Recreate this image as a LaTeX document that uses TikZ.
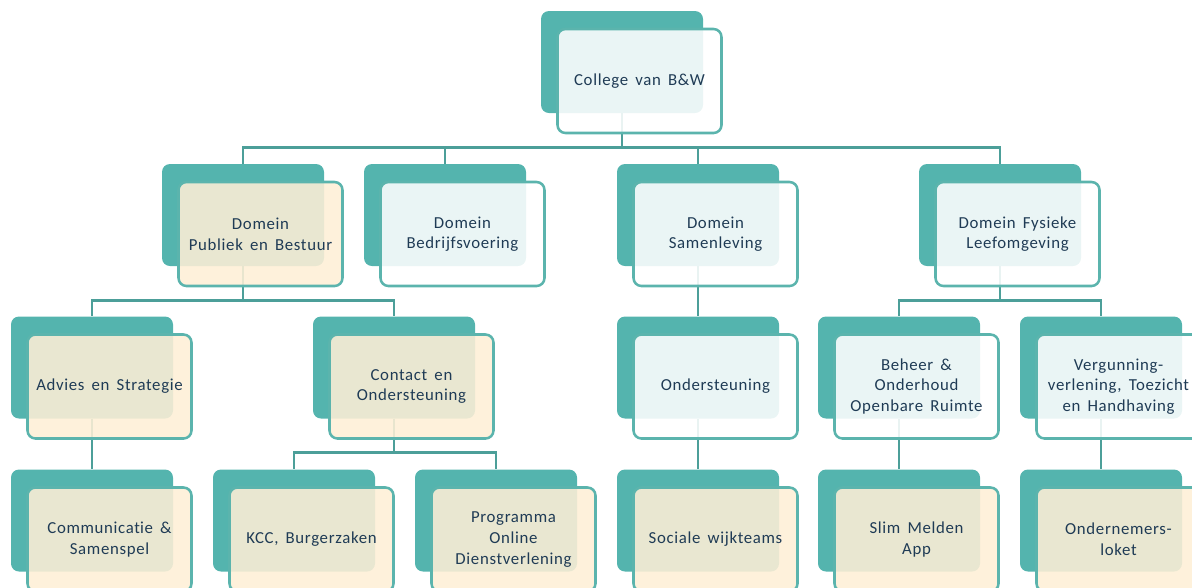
\documentclass[tikz,border=0pt]{standalone}
\usepackage{fontspec}
\setmainfont{Carlito}[LetterSpace=4,WordSpace=1.6,Ligatures={NoCommon}]
\usetikzlibrary{backgrounds}

\definecolor{teal}{HTML}{54B4AE}
\definecolor{edge}{HTML}{5BB4AD}
\definecolor{wire}{HTML}{4C9F99}
\definecolor{cream}{HTML}{FEEFD6}
\definecolor{ink}{HTML}{1F3B55}

\tikzset{
  backbox/.style={rectangle, rounded corners=6pt, fill=teal, minimum width=121.5pt, minimum height=76.5pt, inner sep=0pt},
  frontbox/.style={rectangle, rounded corners=6pt, draw=edge, line width=1.9pt, fill opacity=0.88, text opacity=1,
    minimum width=123pt, minimum height=78pt, align=center, text=ink, font=\fontsize{12.6}{15.5}\selectfont},
  pale/.style={frontbox, fill=white},
  warm/.style={frontbox, fill=cream},
  link/.style={draw=wire, line width=2.2pt}
}

\begin{document}
\begin{tikzpicture}[x=0.75pt, y=-0.75pt]
    \useasboundingbox (0,0) rectangle (1192,587);

    % back plates
    \node[backbox] (college-b) at (622,62) {};
    \node[backbox] (publiek-b) at (243,215) {};
    \node[backbox] (bedrijf-b) at (445,215) {};
    \node[backbox] (samen-b) at (698,215) {};
    \node[backbox] (fysiek-b) at (1000,215) {};
    \node[backbox] (advies-b) at (92,367.5) {};
    \node[backbox] (contact-b) at (394,367.5) {};
    \node[backbox] (onderst-b) at (698,367.5) {};
    \node[backbox] (beheer-b) at (899,367.5) {};
    \node[backbox] (vergun-b) at (1101,367.5) {};
    \node[backbox] (commun-b) at (92,520.5) {};
    \node[backbox] (kcc-b) at (294,520.5) {};
    \node[backbox] (online-b) at (496,520.5) {};
    \node[backbox] (wijk-b) at (698,520.5) {};
    \node[backbox] (melden-b) at (899,520.5) {};
    \node[backbox] (loket-b) at (1101,520.5) {};

    % front cards, offset down-right from their plates
    \node[pale] (college) at ([shift={(17.5,19)}]college-b) {College van B\&W};
    \node[warm] (publiek) at ([shift={(17.5,19)}]publiek-b) {Domein\\Publiek en Bestuur};
    \node[pale] (bedrijf) at ([shift={(17.5,19)}]bedrijf-b) {Domein\\Bedrijfsvoering};
    \node[pale] (samen) at ([shift={(17.5,19)}]samen-b) {Domein\\Samenleving};
    \node[pale] (fysiek) at ([shift={(17.5,19)}]fysiek-b) {Domein Fysieke\\Leefomgeving};
    \node[warm] (advies) at ([shift={(17.5,19)}]advies-b) {Advies en Strategie};
    \node[warm] (contact) at ([shift={(17.5,19)}]contact-b) {Contact en\\Ondersteuning};
    \node[pale] (onderst) at ([shift={(17.5,19)}]onderst-b) {Ondersteuning};
    \node[pale] (beheer) at ([shift={(17.5,19)}]beheer-b) {Beheer \&\\Onderhoud\\Openbare Ruimte};
    \node[pale] (vergun) at ([shift={(17.5,19)}]vergun-b) {Vergunning-\\verlening, Toezicht\\en Handhaving};
    \node[warm] (commun) at ([shift={(17.5,19)}]commun-b) {Communicat\kern0pt ie \&\\Samenspel};
    \node[warm] (kcc) at ([shift={(17.5,19)}]kcc-b) {KCC, Burgerzaken};
    \node[warm] (online) at ([shift={(17.5,19)}]online-b) {Programma\\Online\\Dienstverlening};
    \node[warm] (wijk) at ([shift={(17.5,19)}]wijk-b) {Sociale wijkteams};
    \node[warm] (melden) at ([shift={(17.5,19)}]melden-b) {Slim Melden\\App};
    \node[warm] (loket) at ([shift={(17.5,19)}]loket-b) {Ondernemers-\\loket};

    % elbow lines, behind the plates
    \begin{scope}[on background layer]
      \foreach \p/\c in {college/publiek, college/bedrijf, college/samen, college/fysiek,
                         publiek/advies, publiek/contact, samen/onderst, fysiek/beheer, fysiek/vergun,
                         advies/commun, contact/kcc, contact/online, onderst/wijk, beheer/melden, vergun/loket}
        \draw[link] (\p-b.south) -- ++(0,34) -| (\c-b.north);
    \end{scope}
\end{tikzpicture}
\end{document}
